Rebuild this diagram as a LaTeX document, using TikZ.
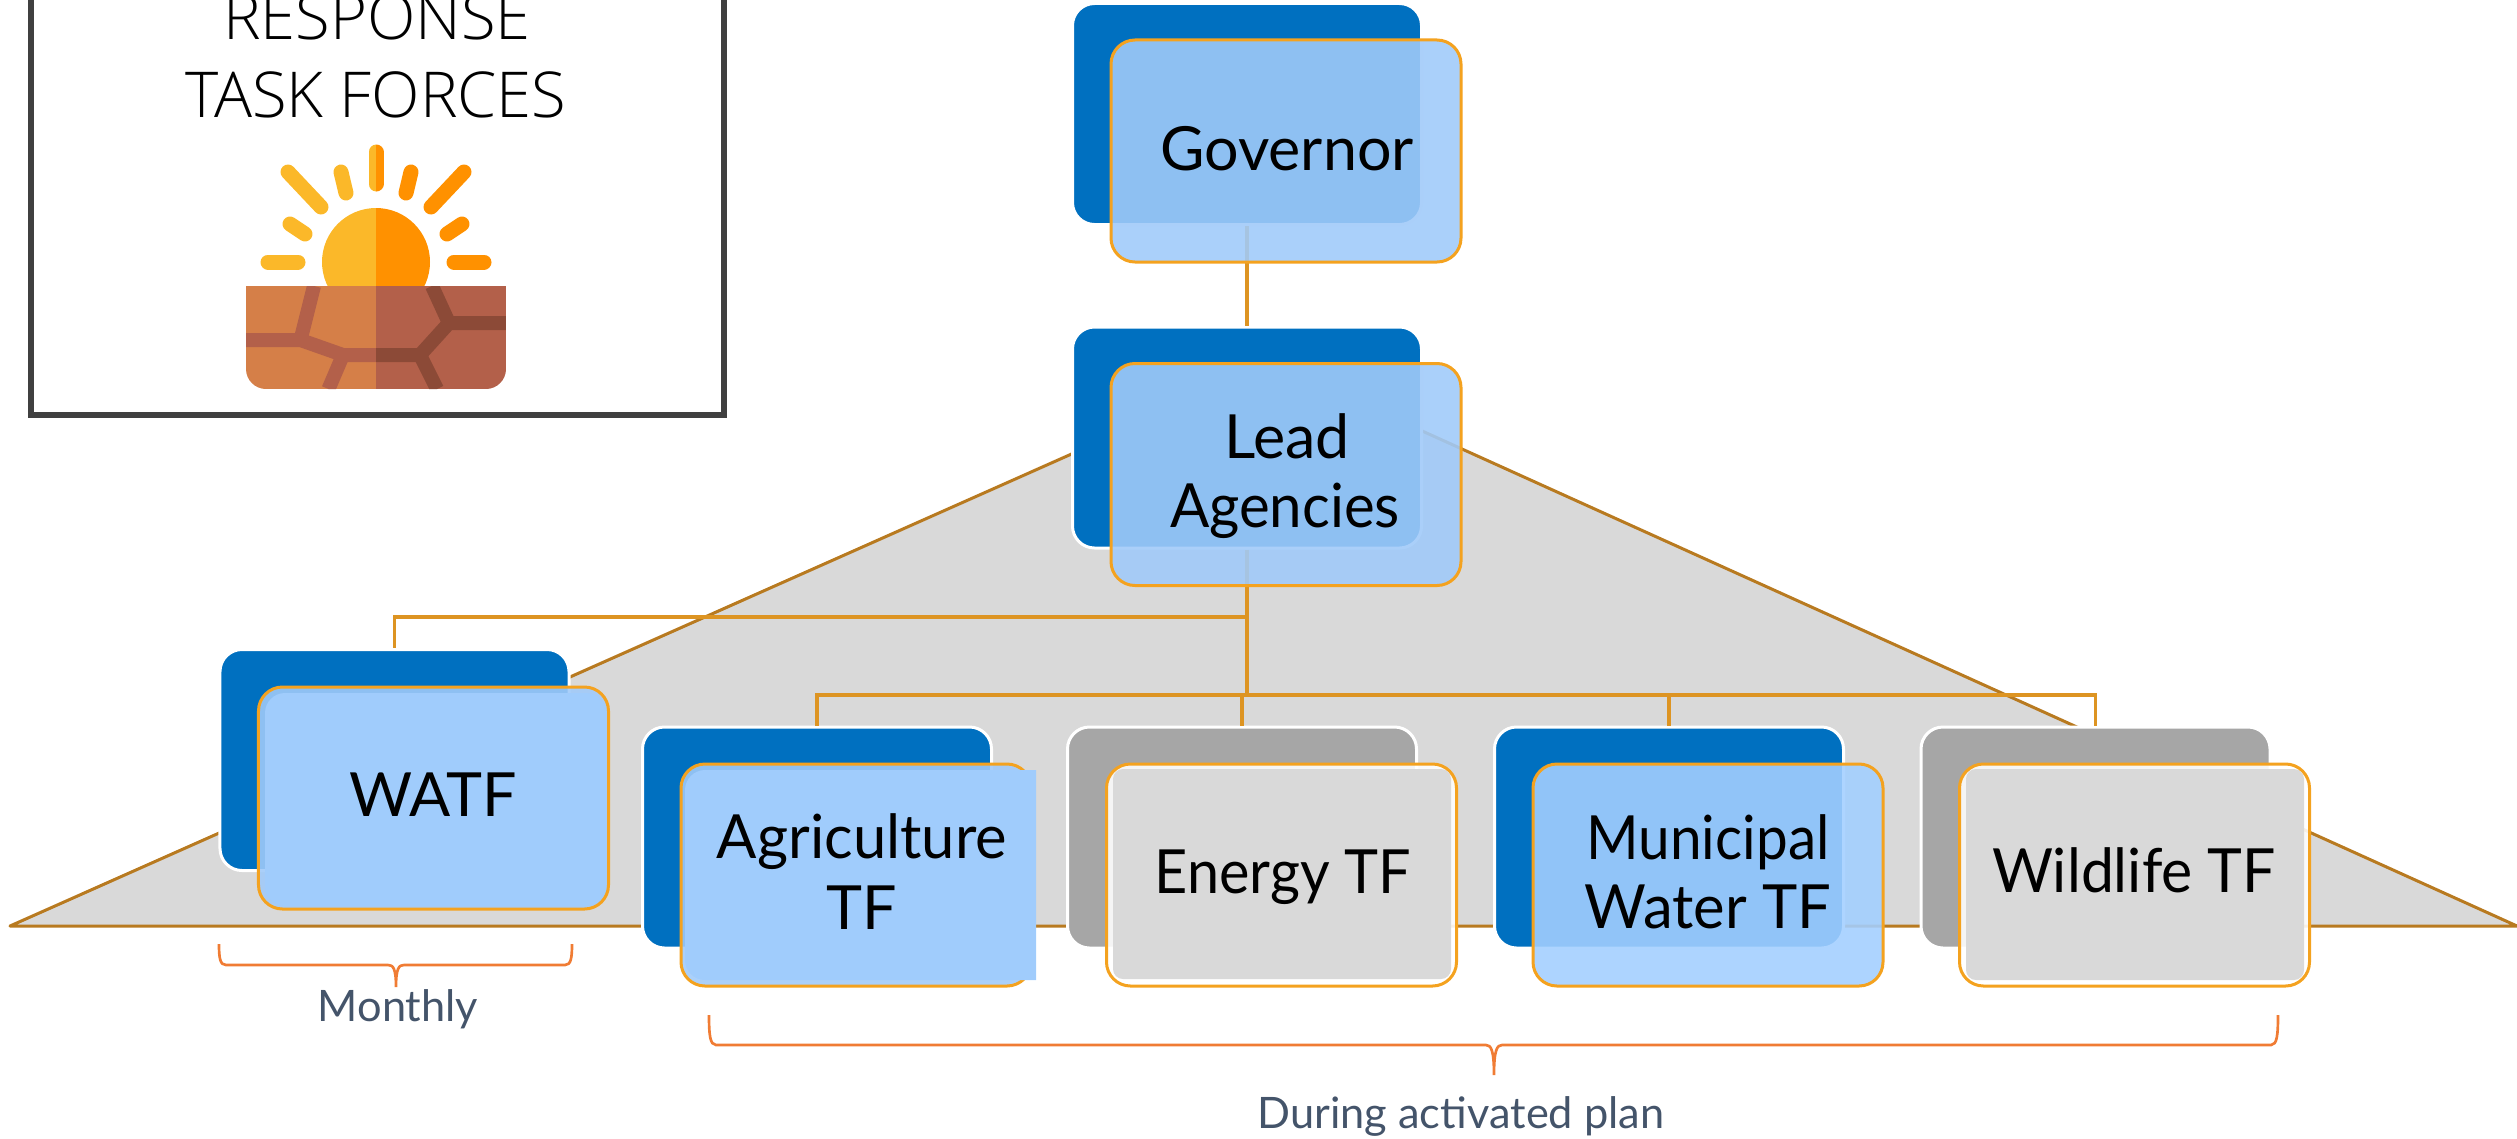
\documentclass[tikz,border=0pt]{standalone}
\usepackage{fontspec}
\setmainfont{Lato}
\newfontfamily\titlefont{Open Sans Light}
\definecolor{backblue}{HTML}{0070C0}
\definecolor{backgray}{HTML}{A6A6A6}
\definecolor{frontblue}{HTML}{A0CAF9}
\definecolor{frontbright}{HTML}{A3CFFF}
\definecolor{solidblue}{HTML}{A0CCFC}
\definecolor{trifill}{HTML}{D9D9D9}
\definecolor{triline}{HTML}{B87A20}
\definecolor{connline}{HTML}{DD9422}
\definecolor{frontline}{HTML}{F4A21F}
\definecolor{braceline}{HTML}{F07C34}
\definecolor{notecol}{HTML}{44546A}
\definecolor{framecol}{HTML}{404040}
\definecolor{sunL}{HTML}{FBB829}
\definecolor{sunR}{HTML}{FF9100}
\definecolor{soilL}{HTML}{D57F48}
\definecolor{soilR}{HTML}{B3604A}
\definecolor{crackR}{HTML}{8C4A37}
\tikzset{
  x=0.03cm,y=-0.03cm,
  backbox/.style={draw=white,line width=0.09cm,rounded corners=0.66cm,minimum width=10.47cm,minimum height=6.63cm,inner sep=0pt},
  frontbox/.style={draw=frontline,line width=0.09cm,fill=frontblue,fill opacity=0.89,rounded corners=0.72cm,minimum width=10.5cm,minimum height=6.66cm,inner sep=0pt},
  conn/.style={draw=connline,line width=0.1cm},
  brace/.style={draw=braceline,line width=0.08cm},
  lbl/.style={anchor=base,inner sep=0pt,font=\fontsize{52}{60}\selectfont,text=black},
  note/.style={anchor=base,inner sep=0pt,font=\fontsize{37}{44}\selectfont,text=notecol},
  ttl/.style={anchor=base,inner sep=0pt,font=\titlefont\fontsize{54}{60}\selectfont,text=black},
  ray/.style={line width=0.45cm,line cap=round},
  crack/.style={line width=0.42cm}
}
\begin{document}
\begin{tikzpicture}
\useasboundingbox (0,0) rectangle (2517,1138);
\clip (0,0) rectangle (2517,1138);
% title frame
\draw[draw=framecol,line width=0.18cm] (31,-20) rectangle (724,415);
\node[ttl] (t1) at (377,39) {RESPONSE};
\node[ttl] (t2) at (376,117) {TASK FORCES};
% icon
\begin{scope}
\clip (246,140) rectangle (376,400);
\fill[sunL] (376,262) circle[radius=1.62cm];
\foreach \a/\b/\c/\d in {376/152/376/184,288/172/321/207,341/172/346/193,290/224/305/234,268/262/298/262}
  \draw[ray,sunL] (\a,\b) -- (\c,\d);
\end{scope}
\begin{scope}
\clip (376,140) rectangle (510,400);
\fill[sunR] (376,262) circle[radius=1.62cm];
\foreach \a/\b/\c/\d in {376/152/376/184,464/172/431/207,411/172/406/193,462/224/447/234,484/262/454/262}
  \draw[ray,sunR] (\a,\b) -- (\c,\d);
\end{scope}
\begin{scope}
\clip (246,286) -- (506,286) -- (506,369) .. controls (506,380) and (497,389) .. (486,389) -- (266,389) .. controls (255,389) and (246,380) .. (246,369) -- cycle;
\fill[soilL] (246,286) rectangle (376,389);
\fill[soilR] (376,286) rectangle (506,389);
\begin{scope}
\clip (246,286) rectangle (376,389);
\draw[crack,soilR] (314,286) -- (300.5,340) -- (246,340) (300.5,340) -- (343,355) -- (420,355) (343,355) -- (328.5,389);
\end{scope}
\begin{scope}
\clip (376,286) rectangle (506,389);
\draw[crack,crackR] (343,355) -- (420,355) -- (449,323) -- (432,286) (449,323) -- (506,323) (420,355) -- (437,389);
\end{scope}
\end{scope}
% big triangle
\filldraw[fill=trifill,draw=triline,line width=0.09cm,line join=round] (10,926) -- (1274,364) -- (2517,926) -- cycle;
% back boxes (named for the connectors)
\node[backbox,fill=backblue] (govb) at (1247,114) {};
\node[backbox,fill=backblue] (leadb) at (1247,437.5) {};
\node[backbox,fill=backblue] (watfb) at (394.5,760) {};
\node[backbox,fill=backblue] (agrb) at (817,837.5) {};
\node[backbox,fill=backgray] (engb) at (1242,837.5) {};
\node[backbox,fill=backblue] (munb) at (1669,837.5) {};
\node[backbox,fill=backgray] (wilb) at (2095.5,837.5) {};
% connectors
\coordinate (busA) at (1247,617);
\coordinate (busB) at (1247,695);
\draw[conn] (govb.south) -- (leadb.north);
\draw[conn] (leadb.south) -- (busB);
\draw[conn] (busA) -| (watfb.north);
\draw[conn] (busB) -| (agrb.north);
\draw[conn] (busB) -| (engb.north);
\draw[conn] (busB) -| (munb.north);
\draw[conn] (busB) -| (wilb.north);
% front boxes
\node[frontbox] (govf) at (1286,151) {};
\node[frontbox] (leadf) at (1286,474.5) {};
\node[frontbox] (watff) at (433.5,798) {};
\node[frontbox] (agrf) at (856,875) {};
\node[frontbox,fill=white] (engf) at (1281.5,875) {};
\node[frontbox,fill=frontbright] (munf) at (1708,875) {};
\node[frontbox,fill=white] (wilf) at (2134.5,875) {};
% opaque overlays
\fill[solidblue,rounded corners=0.6cm] (265,693) rectangle (606,906);
\fill[solidblue] (685,790) .. controls (685,779) and (694,770) .. (705,770) -- (1036,770) -- (1036,980) -- (705,980) .. controls (694,980) and (685,971) .. (685,960) -- cycle;
\fill[trifill,rounded corners=0.3cm] (1113,769) rectangle (1451,979);
\fill[trifill,rounded corners=0.3cm] (1966,769) rectangle (2304,980);
% texts
\node[lbl] (lg) at (1287,170) {Governor};
\node[lbl] (ll1) at (1287,458.5) {Lead};
\node[lbl] (ll2) at (1285,527) {\scalebox{.955}[1]{Agencies}};
\node[lbl] (lw) at (433,816.5) {WATF};
\node[lbl] (la1) at (862,858) {\scalebox{.98}[1]{Agriculture}};
\node[lbl] (la2) at (862,929) {TF};
\node[lbl] (le) at (1283,893) {\scalebox{.945}[1]{Energy TF}};
\node[lbl] (lm1) at (1708,859) {\scalebox{.93}[1]{Municipal}};
\node[lbl] (lm2) at (1708,928) {\scalebox{.98}[1]{Water TF}};
\node[lbl] (lwi) at (2134,892) {\scalebox{.967}[1]{Wildlife TF}};
% braces
\draw[brace] (219,944) .. controls (219,958) and (220,965) .. (226,965) -- (388,965) .. controls (393,965) and (396,968) .. (396,987) .. controls (396,968) and (399,965) .. (404,965) -- (565,965) .. controls (571,965) and (572,958) .. (572,944);
\draw[brace] (709,1015) .. controls (709,1035) and (710,1045) .. (716,1045) -- (1486,1045) .. controls (1491,1045) and (1494,1050) .. (1494,1075) .. controls (1494,1050) and (1497,1045) .. (1502,1045) -- (2271,1045) .. controls (2277,1045) and (2278,1035) .. (2278,1015);
\node[note] (nm) at (398,1021) {Monthly};
\node[note] (nd) at (1461,1128) {During activated plan};
\end{tikzpicture}
\end{document}
